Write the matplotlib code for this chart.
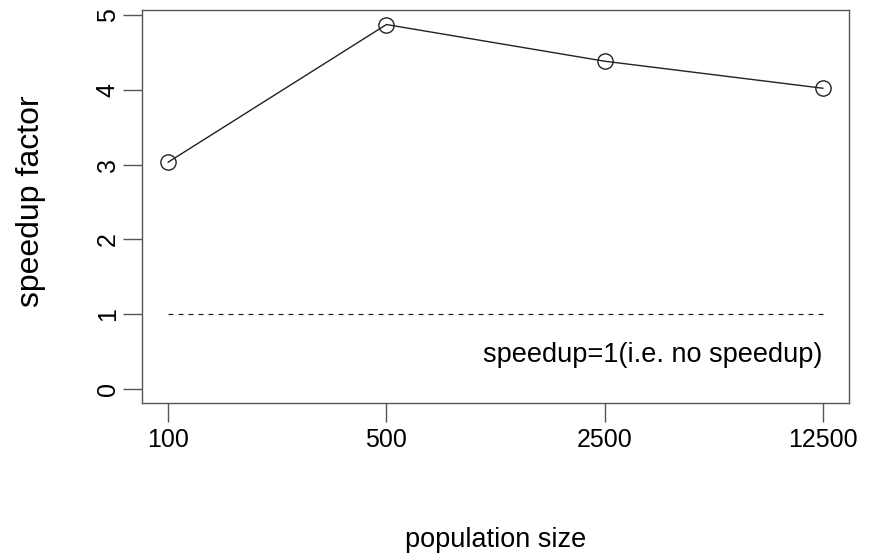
import matplotlib.pyplot as plt
import numpy as np

plt.rcParams['font.family'] = ['Liberation Sans', 'DejaVu Sans']

# data
pop_labels = ['100', '500', '2500', '12500']
speedup = [3.035, 4.878, 4.387, 4.025]
baseline = 1
baseline_text = 'speedup=1(i.e. no speedup)'

x = np.arange(1, len(pop_labels) + 1)

fig = plt.figure(figsize=(8.76, 5.55), dpi=100)
ax = fig.add_axes([0.1621, 0.2733, 0.8071, 0.7087])

ax.plot(x, speedup, color='#222222', lw=1.0, marker='o', ms=11,
        mfc='none', mec='#222222', mew=1.0)
ax.plot([x[0], x[-1]], [baseline, baseline], color='#222222', lw=0.9,
        linestyle=(0, (4, 4)))
ax.text(x[-1], 0.45, baseline_text, ha='right', va='center', fontsize=19.5)

ax.set_xlim(0.88, 4.12)
ax.set_ylim(-0.195, 5.073)
ax.set_xticks(x)
ax.set_xticklabels(pop_labels)
ax.set_yticks(range(0, 6))
ax.set_yticklabels([str(v) for v in range(0, 6)], rotation=90, va='center')

for s in ax.spines.values():
    s.set_color('#555555')
    s.set_linewidth(1.0)
ax.tick_params(axis='both', direction='out', length=14, width=1.0,
               color='#555555', labelsize=18)
ax.tick_params(axis='x', pad=4)
ax.tick_params(axis='y', pad=2)

ax.set_xlabel('population size', fontsize=19.5, va='center')
ax.xaxis.set_label_coords(0.5, -0.348)
ax.set_ylabel('speedup factor', fontsize=23, va='center', ha='center')
ax.yaxis.set_label_coords(-0.157, 0.515)

fig.savefig('out.png', dpi=100)
